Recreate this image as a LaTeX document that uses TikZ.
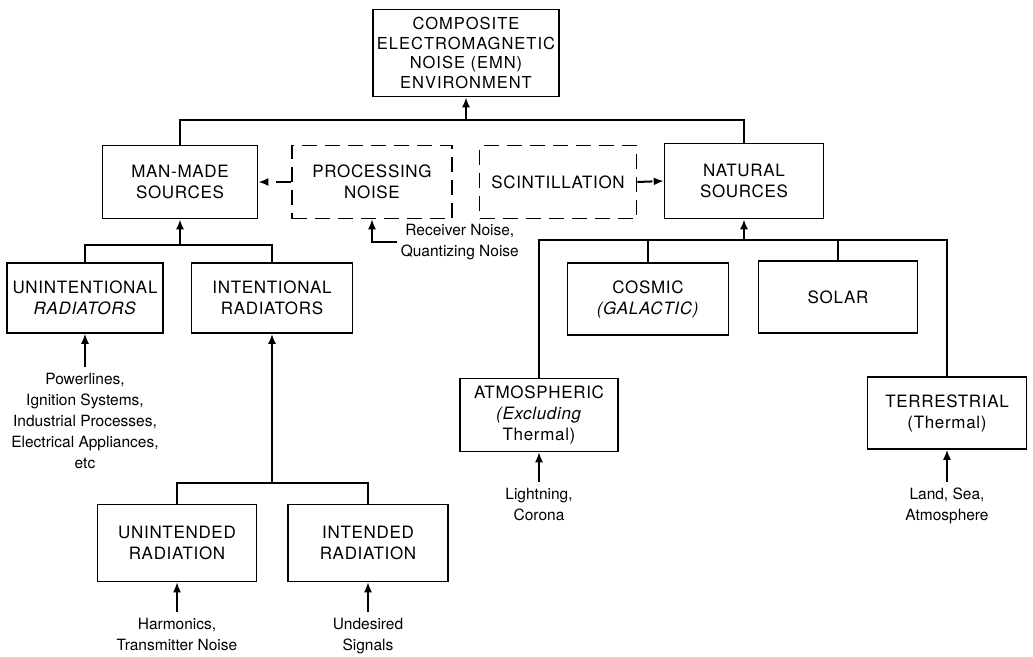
\documentclass[tikz,border=0pt]{standalone}
\usepackage{fontspec}
\setmainfont{TeX Gyre Heros}
\newfontfamily\blkfont[LetterSpace=4]{TeX Gyre Heros}
\newfontfamily\topfont[LetterSpace=6]{TeX Gyre Heros}
\usetikzlibrary{arrows.meta}
\begin{document}
\begin{tikzpicture}[x=1pt,y=-1pt,line width=1.6pt,
  blk/.style={draw,align=center,inner sep=0pt,minimum width=159pt,minimum height=73pt,font=\blkfont\fontsize{17}{21}\selectfont},
  dblk/.style={blk,dash pattern=on 15pt off 8pt},
  txt/.style={align=center,inner xsep=0pt,inner ysep=5pt,font=\fontsize{15.5}{21}\selectfont},
  up/.style={-{Latex[length=10pt,width=8pt]},line width=2pt}]
\useasboundingbox (0,0) rectangle (1033,656);
% blocks
\node[blk,minimum width=186pt,minimum height=87pt,font=\topfont\fontsize{16.5}{19.5}\selectfont] (comp) at (466,53) {COMPOSITE\\ELECTROMAGNETIC\\NOISE (EMN)\\ENVIRONMENT};
\node[blk,minimum width=155pt] (man) at (180,182) {MAN-MADE\\SOURCES};
\node[dblk,minimum width=160pt] (proc) at (372,182) {PROCESSING\\NOISE};
\node[dblk,minimum width=157pt] (scin) at (558,182) {SCINTILLATION};
\node[blk,minimum height=75pt] (nat) at (744,181) {NATURAL\\SOURCES};
\node[blk,minimum width=156pt,minimum height=70pt] (unr) at (85,298) {UNINTENTIONAL\\\textit{RADIATORS}};
\node[blk,minimum width=161pt,minimum height=70pt] (inr) at (272,298) {INTENTIONAL\\RADIATORS};
\node[blk,minimum height=77pt] (uir) at (177,543) {UNINTENDED\\RADIATION};
\node[blk,minimum width=160pt,minimum height=77pt] (ir) at (368,543) {INTENDED\\RADIATION};
\node[blk,minimum width=161pt,minimum height=72pt] (cos) at (648,299) {COSMIC\\\textit{(GALACTIC)}};
\node[blk,minimum height=72pt] (sol) at (838,297) {SOLAR};
\node[blk,minimum width=158pt] (atm) at (539,415) {ATMOSPHERIC\\\textit{(Excluding}\\Thermal)};
\node[blk,minimum height=72pt] (ter) at (947,413) {TERRESTRIAL\\(Thermal)};
% sources
\node[txt,anchor=west,inner xsep=3pt] (rcv) at (397,242) {Receiver Noise,\\Quantizing Noise};
\node[txt,anchor=north] (unrx) at (85,367) {Powerlines,\\Ignition Systems,\\Industrial Processes,\\Electrical Appliances,\\etc};
\node[txt,anchor=north] (uirx) at (177,612) {Harmonics,\\Transmitter Noise};
\node[txt,anchor=north] (irx) at (368,612) {Undesired\\Signals};
\node[txt,anchor=north] (atmx) at (539,482) {Lightning,\\Corona};
\node[txt,anchor=north] (terx) at (947,482) {Land, Sea,\\Atmosphere};
% tree
\coordinate (b1) at (466,120);\coordinate (b2) at (180,245);\coordinate (b3) at (272,483);\coordinate (b4) at (744,240);
\draw[line width=2pt] (man.north) |- (b1) -| (nat.north);\draw[up] (b1) -- (comp.south);
\draw[line width=2pt] (unr.north) |- (b2) -| (inr.north);\draw[up] (b2) -- (man.south);
\draw[line width=2pt] (uir.north) |- (b3) -| (ir.north);\draw[up] (b3) -- (inr.south);
\draw[line width=2pt] (atm.north) |- (b4) -| (ter.north);\draw[up] (b4) -- (nat.south);
\draw[line width=2pt] (cos.north) -- (cos.north|-b4);\draw[line width=2pt] (sol.north) -- (sol.north|-b4);
\draw[up,dash pattern=on 15pt off 8pt] (proc.west) -- (man.east);\draw[up,dash pattern=on 15pt off 8pt] (scin.east) -- (nat.west);
\draw[up,line width=1.6pt] (rcv.west) -| (proc.south);
\foreach \s/\t in {unrx/unr,uirx/uir,irx/ir,atmx/atm,terx/ter} \draw[up,line width=1.6pt] (\s.north) -- (\t.south);
\end{tikzpicture}
\end{document}
